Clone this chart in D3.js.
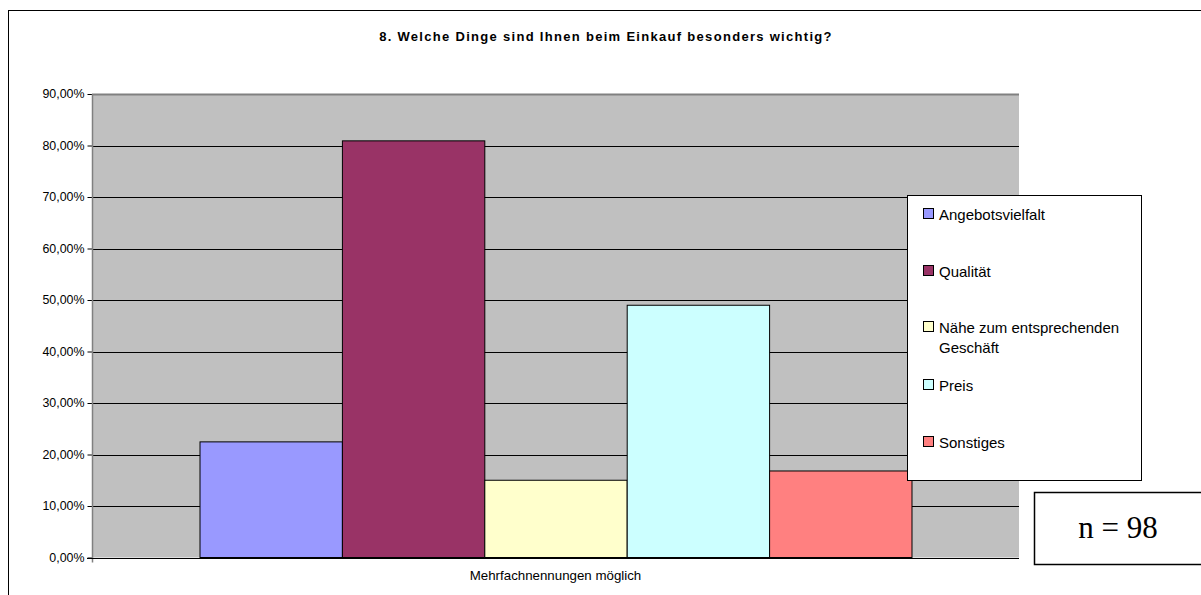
<!DOCTYPE html>
<html>
<head>
<meta charset="utf-8">
<script src="https://cdn.jsdelivr.net/npm/d3@7"></script>
<style>
  body { margin: 0; background: #fff; }
  svg { display: block; font-family: "Liberation Sans", Arial, sans-serif; }
</style>
</head>
<body>
<svg id="chart" width="1201" height="595"></svg>
<script>
// Daten
var categories = ["Angebotsvielfalt", "Qualität", "Nähe zum entsprechenden Geschäft", "Preis", "Sonstiges"];
var values = [22.45, 80.9, 15.0, 48.98, 16.8];
var colors = ["#9999ff", "#993366", "#ffffcc", "#ccffff", "#ff8080"];
var yTicks = [0, 10, 20, 30, 40, 50, 60, 70, 80, 90];
var groupLabel = ["Mehrfachnennungen möglich"];
var title = "8. Welche Dinge sind Ihnen beim Einkauf besonders wichtig?";
var sampleNote = "n = 98";

var svg = d3.select("#chart");

var plot = { left: 92, top: 94, right: 1019, bottom: 557.5 };

// Rahmen
svg.append("rect")
  .attr("x", 8.5).attr("y", 10.5)
  .attr("width", 1300).attr("height", 700)
  .attr("fill", "#fff").attr("stroke", "#000").attr("stroke-width", 1);

svg.append("text")
  .attr("x", 606).attr("y", 41)
  .attr("text-anchor", "middle")
  .attr("font-size", 13).attr("font-weight", "bold")
  .attr("letter-spacing", 1.3)
  .attr("fill", "#000")
  .text(title);

var y = d3.scaleLinear().domain([0, 90]).range([plot.bottom, plot.top]);
var x0 = d3.scaleBand().domain(groupLabel).range([plot.left, plot.right]).paddingInner(0).paddingOuter(0.151);
var x1 = d3.scaleBand().domain(categories).range([0, x0.bandwidth()]).padding(0);

// Hintergrund
svg.append("rect")
  .attr("x", plot.left).attr("y", plot.top)
  .attr("width", plot.right - plot.left).attr("height", plot.bottom - plot.top)
  .attr("fill", "#c0c0c0");

// Gitterlinien
svg.append("g").selectAll("line")
  .data(yTicks.slice(1))
  .join("line")
  .attr("x1", plot.left).attr("x2", plot.right)
  .attr("y1", function(d) { return Math.round(y(d)) + 0.5; })
  .attr("y2", function(d) { return Math.round(y(d)) + 0.5; })
  .attr("stroke", function(d) { return d === 90 ? "#808080" : "#000"; })
  .attr("stroke-width", function(d) { return d === 90 ? 2 : 1; });

// Balken
svg.append("g").selectAll("rect")
  .data(values)
  .join("rect")
  .attr("x", function(d, i) { return x0(groupLabel[0]) + x1(categories[i]) + 0.5; })
  .attr("y", function(d) { return y(d); })
  .attr("width", x1.bandwidth())
  .attr("height", function(d) { return plot.bottom - y(d); })
  .attr("fill", function(d, i) { return colors[i]; })
  .attr("stroke", "#000").attr("stroke-width", 1);

// linke Achse
var yAxis = d3.axisLeft(y)
  .tickValues(yTicks)
  .tickSize(5)
  .tickFormat(function(d) { return d3.format(".2f")(d).replace(".", ",") + "%"; });

var gy = svg.append("g")
  .attr("transform", "translate(" + (plot.left + 0.5) + ",0)")
  .call(yAxis);
gy.select(".domain").remove();
gy.append("line")
  .attr("x1", 0).attr("x2", 0)
  .attr("y1", plot.top).attr("y2", plot.bottom + 5)
  .attr("stroke", "#808080").attr("stroke-width", 1.5);
gy.selectAll(".tick line").attr("stroke", "#000");
gy.selectAll(".tick text")
  .attr("font-size", 12.4)
  .attr("font-family", "Liberation Sans, Arial, sans-serif")
  .attr("fill", "#000")
  .attr("x", -8);

// x-Achse
svg.append("line")
  .attr("x1", plot.left - 5).attr("x2", plot.right)
  .attr("y1", Math.round(plot.bottom) + 0.5).attr("y2", Math.round(plot.bottom) + 0.5)
  .attr("stroke", "#000");

svg.append("text")
  .attr("x", x0(groupLabel[0]) + x0.bandwidth() / 2)
  .attr("y", 580)
  .attr("text-anchor", "middle")
  .attr("font-size", 13.3)
  .attr("fill", "#000")
  .text(groupLabel[0]);

// Legende
var legend = svg.append("g");
legend.append("rect")
  .attr("x", 907.5).attr("y", 195.5)
  .attr("width", 234).attr("height", 285)
  .attr("fill", "#fff").attr("stroke", "#000");

var legendRows = [
  { lines: [categories[0]], y: 214 },
  { lines: [categories[1]], y: 271 },
  { lines: ["Nähe zum entsprechenden", "Geschäft"], y: 327 },
  { lines: [categories[3]], y: 385 },
  { lines: [categories[4]], y: 442 }
];

legendRows.forEach(function(r, i) {
  legend.append("rect")
    .attr("x", 923.5).attr("y", r.y - 5.5)
    .attr("width", 10).attr("height", 10)
    .attr("fill", colors[i]).attr("stroke", "#000");
  r.lines.forEach(function(t, j) {
    legend.append("text")
      .attr("x", 939).attr("y", r.y + 5.5 + j * 20)
      .attr("font-size", 15)
      .attr("fill", "#000")
      .text(t);
  });
});

// n-Box
svg.append("rect")
  .attr("x", 1034.5).attr("y", 492.5)
  .attr("width", 200).attr("height", 72)
  .attr("fill", "#fff").attr("stroke", "#000").attr("stroke-width", 1.5);
svg.append("text")
  .attr("x", 1118).attr("y", 538)
  .attr("text-anchor", "middle")
  .attr("font-family", "Liberation Serif, Times New Roman, serif")
  .attr("font-size", 31)
  .attr("fill", "#000")
  .text(sampleNote);
</script>
</body>
</html>
